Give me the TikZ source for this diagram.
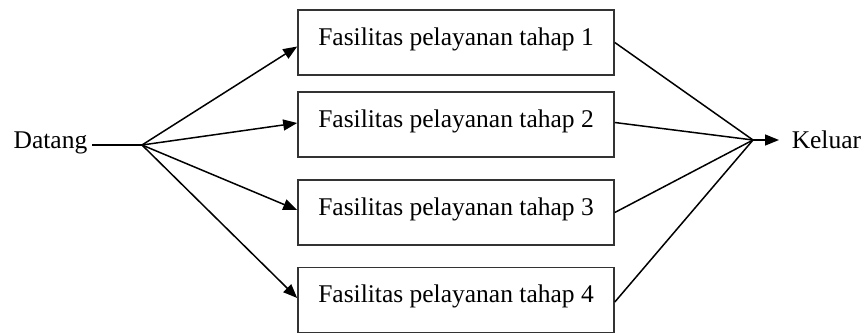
\documentclass[tikz,border=0pt]{standalone}
\usepackage{fontspec}
\setmainfont{Liberation Serif}
\usetikzlibrary{arrows.meta}
\begin{document}
\begin{tikzpicture}[x=1pt,y=-1pt, line width=1.5pt,
  txt/.style={font=\fontsize{25.5}{30}\selectfont},
  stagebox/.style={txt, draw=black!80, line width=1.6pt, minimum width=316pt,
    minimum height=65pt, inner sep=0pt, text height=35pt, text depth=30pt},
  arr/.style={-{Triangle[length=14pt,width=11pt]}}]
\useasboundingbox (0,0) rectangle (868,333);
\node[stagebox] (b1) at (456,42.5) {Fasilitas pelayanan tahap 1};
\node[stagebox] (b2) at (456,124.5) {Fasilitas pelayanan tahap 2};
\node[stagebox] (b3) at (456,212.5) {Fasilitas pelayanan tahap 3};
\node[stagebox] (b4) at (456,300) {Fasilitas pelayanan tahap 4};
\node[txt, anchor=base east, inner xsep=4pt, inner ysep=0pt] (d) at (92,148) {Datang};
\node[txt, anchor=base west, inner xsep=12pt, inner ysep=0pt] (k) at (779,148) {Keluar};
\coordinate (split) at (142,145);
\coordinate (merge) at (753,140);
\draw (d.east |- split) -- (split);
\draw[arr] (split) -- ([yshift=-4pt]b1.west);
\draw[arr] (split) -- ([yshift=1.5pt]b2.west);
\draw[arr] (split) -- ([yshift=2.5pt]b3.west);
\draw[arr] (split) -- ([yshift=2pt]b4.west);
\draw (b1.east) -- (merge);
\draw ([yshift=2pt]b2.east) -- (merge);
\draw (b3.east) -- (merge);
\draw ([yshift=-2pt]b4.east) -- (merge);
\draw[arr] (merge) -- (k.west |- merge);
\end{tikzpicture}
\end{document}
